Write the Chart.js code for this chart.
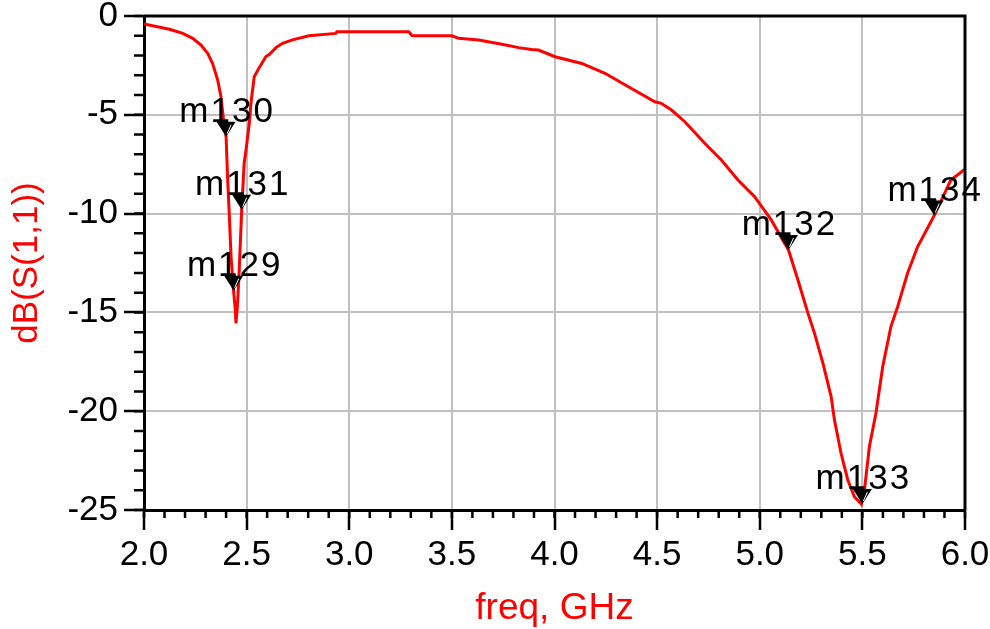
<!DOCTYPE html>
<html>
<head>
<meta charset="utf-8">
<script src="https://cdn.jsdelivr.net/npm/chart.js@4.4.1/dist/chart.umd.min.js"></script>
<style>
  body { margin: 0; background: #fff; }
  canvas { display: block; }
</style>
</head>
<body>
<canvas id="s11Chart" width="990" height="629"></canvas>
<script>
const FONT = "'Liberation Sans', Arial, sans-serif";

// frequency sweep (GHz) and dB(S(1,1))
const freqGHz = [
  2.0, 2.124, 2.189, 2.237, 2.278, 2.31, 2.334, 2.359, 2.375, 2.391,
  2.4, 2.407, 2.416, 2.424, 2.436, 2.445, 2.448,
  2.456, 2.464, 2.476, 2.488, 2.497, 2.513, 2.521, 2.537, 2.562, 2.594,
  2.61, 2.643, 2.675, 2.723, 2.804, 2.934, 2.94, 3.29, 3.306, 3.5,
  3.533, 3.631, 3.744, 3.825, 3.888, 3.922, 4.003, 4.133, 4.246, 4.36,
  4.489, 4.52, 4.57, 4.635, 4.732, 4.813, 4.894, 4.975, 5.056, 5.121,
  5.14, 5.186, 5.235, 5.267, 5.308, 5.348, 5.364, 5.396, 5.429, 5.461,
  5.495, 5.51, 5.534, 5.566, 5.599, 5.639, 5.672, 5.72, 5.769, 5.85,
  5.931, 6.0
];
const s11dB = [
  -0.4, -0.67, -0.88, -1.13, -1.47, -1.89, -2.39, -3.24, -4.08, -5.6,
  -6.11, -8.13, -10.16, -12.18, -13.87, -14.88, -15.55,
  -14.54, -12.85, -9.8, -7.45, -6.78, -5.43, -4.42, -3.07, -2.6, -2.05,
  -1.95, -1.6, -1.38, -1.21, -1.0, -0.88, -0.8, -0.8, -1.0, -1.0,
  -1.13, -1.21, -1.43, -1.6, -1.69, -1.72, -2.06, -2.4, -2.9, -3.58,
  -4.34, -4.42, -4.76, -5.35, -6.44, -7.29, -8.3, -9.14, -10.32, -11.5,
  -11.84, -13.36, -15.05, -16.06, -17.58, -19.27, -20.45, -22.13, -23.48, -24.33,
  -24.7, -24.0, -21.8, -20.1, -17.75, -15.72, -14.71, -13.02, -11.68, -10.1,
  -8.3, -7.75
];

// ADS markers
const markerNames = ["m130", "m131", "m129", "m132", "m133", "m134"];
const markerFreq = [2.4, 2.476, 2.437, 5.14, 5.5, 5.85];
const markerDb = [-6.11, -9.8, -13.9, -11.84, -24.7, -10.1];

const xTickStep = 0.5;
const xMinorStep = 0.1;
const yTickStep = 5;
const yMinorStep = 1;

const points = freqGHz.map((f, i) => ({ x: f, y: s11dB[i] }));

// no label overflow padding, keep plot box where it is in the original
function noAutoPad(scale) {
  scale.paddingTop = 0;
  scale.paddingBottom = 0;
  scale.paddingLeft = 0;
  scale.paddingRight = 0;
}

const minorTicks = {
  id: "minorTicks",
  afterDraw(chart) {
    const { ctx, chartArea } = chart;
    const xs = chart.scales.x;
    const ys = chart.scales.y;
    ctx.save();
    ctx.strokeStyle = "#000";
    ctx.lineWidth = 2.5;
    ctx.beginPath();
    for (let v = xs.min; v <= xs.max + 1e-9; v += xMinorStep) {
      const px = xs.getPixelForValue(v);
      ctx.moveTo(px, chartArea.bottom);
      ctx.lineTo(px, chartArea.bottom + 8);
    }
    for (let v = ys.min; v <= ys.max + 1e-9; v += yMinorStep) {
      const py = ys.getPixelForValue(v);
      ctx.moveTo(chartArea.left - 10, py);
      ctx.lineTo(chartArea.left, py);
    }
    ctx.stroke();

    // top + right frame
    ctx.lineWidth = 3;
    ctx.beginPath();
    ctx.moveTo(chartArea.left, chartArea.top);
    ctx.lineTo(chartArea.right, chartArea.top);
    ctx.lineTo(chartArea.right, chartArea.bottom);
    ctx.stroke();
    ctx.restore();
  },
};

const markerPlugin = {
  id: "markers",
  afterDraw(chart) {
    const { ctx } = chart;
    const xs = chart.scales.x;
    const ys = chart.scales.y;
    ctx.save();
    markerNames.forEach((name, i) => {
      const px = xs.getPixelForValue(markerFreq[i]);
      const py = ys.getPixelForValue(markerDb[i]);
      ctx.fillStyle = "#000";
      ctx.beginPath();
      ctx.moveTo(px - 9.5, py - 15);
      ctx.lineTo(px + 9.5, py - 15);
      ctx.lineTo(px, py);
      ctx.closePath();
      ctx.fill();
      ctx.strokeStyle = "#fff";
      ctx.lineWidth = 1;
      ctx.beginPath();
      ctx.moveTo(px + 1, py - 3);
      ctx.lineTo(px + 5, py - 12);
      ctx.stroke();

      ctx.font = "35px " + FONT;
      ctx.letterSpacing = "2px";
      ctx.textAlign = "center";
      ctx.textBaseline = "alphabetic";
      ctx.fillText(name, px + 1, py - 15);
    });
    ctx.restore();
  },
};

new Chart(document.getElementById("s11Chart"), {
  type: "line",
  data: {
    datasets: [
      {
        data: points,
        borderColor: "#ff0000",
        borderWidth: 3,
        pointRadius: 0,
        tension: 0,
        fill: false,
      },
    ],
  },
  options: {
    responsive: false,
    animation: false,
    layout: {
      padding: { top: 16, right: 25, left: 0, bottom: 0 },
      autoPadding: false,
    },
    plugins: {
      legend: { display: false },
      tooltip: { enabled: false },
    },
    scales: {
      x: {
        type: "linear",
        min: 2,
        max: 6,
        afterFit: (scale) => {
          scale.height = 119;
          noAutoPad(scale);
        },
        ticks: {
          stepSize: xTickStep,
          autoSkip: false,
          maxRotation: 0,
          color: "#000",
          padding: 4,
          font: { family: FONT, size: 35 },
          callback: (v) => v.toFixed(1),
        },
        grid: {
          color: "#c0c0c0",
          lineWidth: 2,
          tickColor: "#000",
          tickWidth: 2.5,
          tickLength: 20,
        },
        border: { color: "#000", width: 3 },
        title: {
          display: true,
          text: "freq, GHz",
          color: "#ff0000",
          padding: 0,
          font: { family: FONT, size: 37, lineHeight: 1.1 },
        },
      },
      y: {
        min: -25,
        max: 0,
        afterFit: (scale) => {
          scale.width = 144;
          noAutoPad(scale);
        },
        ticks: {
          stepSize: yTickStep,
          color: "#000",
          padding: 6,
          font: { family: FONT, size: 35 },
        },
        grid: {
          color: "#c0c0c0",
          lineWidth: 2,
          tickColor: "#000",
          tickWidth: 2.5,
          tickLength: 20,
        },
        border: { color: "#000", width: 3 },
        title: {
          display: true,
          text: "dB(S(1,1))",
          color: "#ff0000",
          padding: { top: 8, bottom: 0 },
          font: { family: FONT, size: 35, lineHeight: 1.1 },
        },
      },
    },
  },
  plugins: [minorTicks, markerPlugin],
});
</script>
</body>
</html>
